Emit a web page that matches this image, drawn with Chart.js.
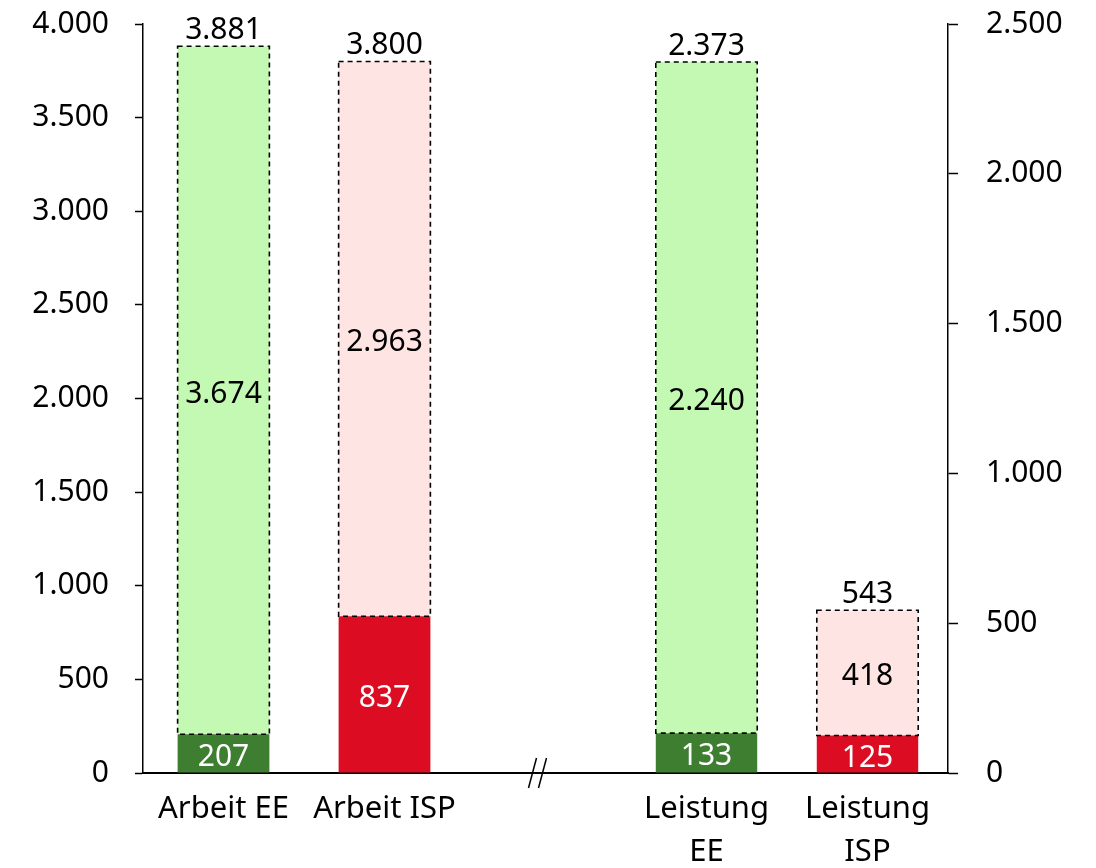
<!DOCTYPE html>
<html>
<head>
<meta charset="utf-8">
<script src="https://cdn.jsdelivr.net/npm/chart.js@4/dist/chart.umd.min.js"></script>
<style>
  html, body { margin: 0; padding: 0; background: #fff; }
  #wrap { width: 1096px; height: 868px; position: relative; }
</style>
</head>
<body>
<div id="wrap"><canvas id="chart"></canvas></div>
<script>
// categories (the empty slot holds the axis break)
const categories = ['Arbeit EE', 'Arbeit ISP', '', ['Leistung', 'EE'], ['Leistung', 'ISP']];

// left axis (Arbeit) and right axis (Leistung)
const arbeitBase    = [207, 837];
const arbeitRest    = [3674, 2963];
const leistungBase  = [133, 125];
const leistungRest  = [2240, 418];

const leftTicks  = [0, 500, 1000, 1500, 2000, 2500, 3000, 3500, 4000];
const rightTicks = [0, 500, 1000, 1500, 2000, 2500];

const DARK_GREEN = '#3E7E31', RED = '#DC0D23';
const LIGHT_GREEN = '#C3F9B3', LIGHT_RED = '#FFE4E4';
const NUM_FONT = '30px "Noto Sans"';

const fmt = v => String(Math.round(v)).replace(/\B(?=(\d{3})+(?!\d))/g, '.');

const arbeitRow   = arr => [...arr, null, null, null];
const leistungRow = arr => [null, null, null, ...arr];

const baseColors = [DARK_GREEN, RED, null, DARK_GREEN, RED];
const restColors = [LIGHT_GREEN, LIGHT_RED, null, LIGHT_GREEN, LIGHT_RED];

// fixed axis sizes so the plot area sits where the original has it
const fixWidth = w => s => {
  s.width = w;
  s.paddingTop = 0; s.paddingBottom = 0;
};

// dashed outline round the upper segments + value labels + totals + axis break
const decor = {
  id: 'decor',
  afterDatasetsDraw(chart) {
    const ctx = chart.ctx;
    ctx.save();
    chart.data.datasets.forEach((ds, i) => {
      const meta = chart.getDatasetMeta(i);
      meta.data.forEach((el, j) => {
        const v = ds.data[j];
        if (v == null) return;
        const { x, y, base, width } = el.getProps(['x', 'y', 'base', 'width'], true);
        if (ds.part === 'rest') {
          ctx.setLineDash([5, 4]);
          ctx.lineWidth = 1.6;
          ctx.strokeStyle = '#000';
          ctx.strokeRect(x - width / 2, y, width, base - y);
          ctx.setLineDash([]);
        }
        ctx.font = NUM_FONT;
        ctx.textAlign = 'center';
        ctx.textBaseline = 'middle';
        ctx.fillStyle = ds.part === 'base' ? '#fff' : '#000';
        ctx.fillText(fmt(v), x, (y + base) / 2 + 4);
        if (ds.part === 'rest') {
          const baseDs = chart.data.datasets[i - 1];
          ctx.fillStyle = '#000';
          ctx.fillText(fmt(v + baseDs.data[j]), x, y - 16);
        }
      });
    });
    // axis break marks
    const xs = chart.scales.x;
    const bx = xs.getPixelForValue(2) - 8, by = chart.chartArea.bottom;
    ctx.strokeStyle = '#000';
    ctx.lineWidth = 1.5;
    [-5, 5].forEach(dx => {
      ctx.beginPath();
      ctx.moveTo(bx + dx - 4, by + 15);
      ctx.lineTo(bx + dx + 4, by - 15);
      ctx.stroke();
    });
    ctx.restore();
  }
};

new Chart(document.getElementById('chart'), {
  type: 'bar',
  data: {
    labels: categories,
    datasets: [
      { part: 'base', data: arbeitRow(arbeitBase), yAxisID: 'y', stack: 's',
        backgroundColor: baseColors, barPercentage: 0.57 },
      { part: 'rest', data: arbeitRow(arbeitRest), yAxisID: 'y', stack: 's',
        backgroundColor: restColors, barPercentage: 0.57 },
      { part: 'base', data: leistungRow(leistungBase), yAxisID: 'y2', stack: 's',
        backgroundColor: baseColors, barPercentage: 0.63 },
      { part: 'rest', data: leistungRow(leistungRest), yAxisID: 'y2', stack: 's',
        backgroundColor: restColors, barPercentage: 0.63 }
    ]
  },
  options: {
    responsive: true,
    maintainAspectRatio: false,
    animation: false,
    layout: { padding: { top: 24, left: 0, right: 0, bottom: 0 } },
    plugins: { legend: { display: false }, tooltip: { enabled: false } },
    datasets: { bar: { categoryPercentage: 1, borderWidth: 0, skipNull: true } },
    scales: {
      x: {
        stacked: true,
        grid: { display: false, drawTicks: false },
        border: { display: true, color: '#000', width: 2 },
        ticks: { color: '#000', font: { family: 'Noto Sans', size: 31, lineHeight: 1.4 }, padding: 14, maxRotation: 0, autoSkip: false },
        afterFit: s => { s.height = 95; s.paddingLeft = 0; s.paddingRight = 0; }
      },
      y: {
        position: 'left',
        stacked: true,
        min: 0, max: 4000,
        afterBuildTicks: s => { s.ticks = leftTicks.map(v => ({ value: v })); },
        grid: { drawOnChartArea: false, drawTicks: true, tickLength: 8, color: '#000', tickWidth: 1.5 },
        border: { display: true, color: '#000', width: 1.5 },
        ticks: { color: '#000', font: { family: 'Noto Sans', size: 30 }, padding: 26, callback: v => fmt(v) },
        afterFit: fixWidth(143)
      },
      y2: {
        position: 'right',
        stacked: true,
        min: 0, max: 2500,
        afterBuildTicks: s => { s.ticks = rightTicks.map(v => ({ value: v })); },
        grid: { drawOnChartArea: false, drawTicks: true, tickLength: 10, color: '#000', tickWidth: 1.5 },
        border: { display: true, color: '#000', width: 1.5 },
        ticks: { color: '#000', font: { family: 'Noto Sans', size: 30 }, padding: 28, callback: v => fmt(v) },
        afterFit: fixWidth(148)
      }
    }
  },
  plugins: [decor]
});
</script>
</body>
</html>
